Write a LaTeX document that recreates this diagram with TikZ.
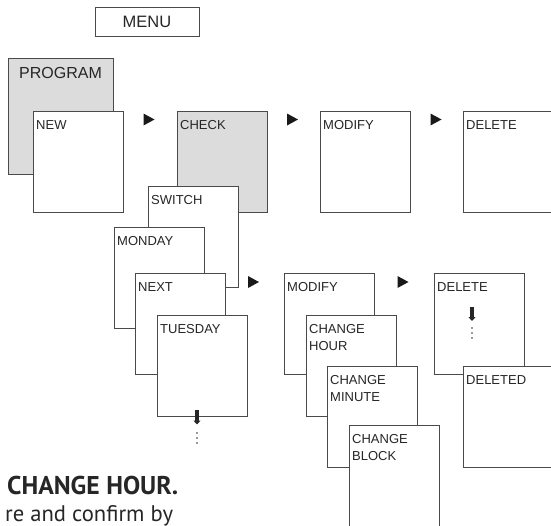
\documentclass[tikz,border=0pt]{standalone}
\usepackage{fontspec}
\setmainfont{Liberation Sans}
\newfontfamily\bodyfont{PT Sans}
\usetikzlibrary{arrows.meta,calc}
\definecolor{boxline}{HTML}{4A4A4A}
\definecolor{boxgray}{HTML}{DCDCDD}
\tikzset{
  box/.style={draw=boxline, line width=0.9pt, fill=white, minimum width=90pt,
    minimum height=101pt, anchor=north west, inner sep=0pt, outer sep=0pt},
  gbox/.style={box, fill=boxgray},
  lbl/.style={anchor=north west, inner sep=0pt, align=left,
    font=\fontsize{13}{16.7}\selectfont, text=black!85},
  bigl/.style={inner sep=0pt, font=\fontsize{16}{19}\selectfont, text=black!85},
  tri/.style={fill=black!90},
  darrow/.style={line width=3.6pt, black!85, -{Triangle[width=7pt,length=4pt]}},
  dot/.style={fill=black!80},
}
\newcommand\rtri[2]{\fill[tri] (#1,#2) ++(-5.5,-6) -- ++(0,12) -- ++(11,-6) -- cycle;}
\newcommand\mydots[2]{\fill[dot] (#1,#2) circle (0.9pt) (#1,#2+5) circle (0.9pt) (#1,#2+10) circle (0.9pt);}
\begin{document}
\begin{tikzpicture}[x=1pt,y=-1pt]
\useasboundingbox (0,0) rectangle (551,525);
% menu
\node[draw=boxline, line width=0.9pt, minimum width=104pt, minimum height=29pt,
  inner sep=0pt, font=\fontsize{16.5}{19}\selectfont, text=black!85] (menu) at (147,21.5) {MENU};
% program / new
\node[gbox, minimum width=105pt, minimum height=116pt] (program) at (8,58) {};
\node[bigl, anchor=north west] (programt) at ($(program.north west)+(11,9)$) {PROGRAM};
\node[box] (new) at (33,111) {};
\node[lbl] (newt) at ($(new.north west)+(3,9.5)$) {NEW};
% check etc.
\node[gbox] (check) at (177,111) {};
\node[lbl] (checkt) at ($(check.north west)+(3,9.5)$) {CHECK};
\node[box] (modify) at (320,111) {};
\node[lbl] (modifyt) at ($(modify.north west)+(3,9.5)$) {MODIFY};
\node[box] (delete) at (463,111) {};
\node[lbl] (deletet) at ($(delete.north west)+(3,9.5)$) {DELETE};
% switch stack
\node[box] (switch) at (148,186) {};
\node[lbl] (switcht) at ($(switch.north west)+(3,9.5)$) {SWITCH};
\node[box] (monday) at (114,227) {};
\node[lbl] (mondayt) at ($(monday.north west)+(3,9.5)$) {MONDAY};
\node[box] (next) at (135,273) {};
\node[lbl] (nextt) at ($(next.north west)+(3,9.5)$) {NEXT};
\node[box] (tuesday) at (157,315) {};
\node[lbl] (tuesdayt) at ($(tuesday.north west)+(3,9.5)$) {TUESDAY};
% modify stack
\node[box] (modify2) at (284,273) {};
\node[lbl] (modify2t) at ($(modify2.north west)+(3,9.5)$) {MODIFY};
\node[box] (chour) at (306,315) {};
\node[lbl] (chourt) at ($(chour.north west)+(3,9.5)$) {CHANGE\\HOUR};
\node[box] (cminute) at (327,366) {};
\node[lbl] (cminutet) at ($(cminute.north west)+(3,9.5)$) {CHANGE\\MINUTE};
\node[box] (cblock) at (349,425) {};
\node[lbl] (cblockt) at ($(cblock.north west)+(3,9.5)$) {CHANGE\\BLOCK};
% delete stack
\node[box] (delete2) at (434,273) {};
\node[lbl] (delete2t) at ($(delete2.north west)+(3,9.5)$) {DELETE};
\node[box] (deleted) at (463,366) {};
\node[lbl] (deletedt) at ($(deleted.north west)+(3,9.5)$) {DELETED};
% right arrows
\rtri{149}{119.5}
\rtri{292.5}{119.5}
\rtri{436}{119.5}
\rtri{253.5}{282}
\rtri{403}{282}
% down arrows and dots
\coordinate (d1a) at (197,410);
\coordinate (d1b) at (197,424.5);
\draw[darrow] (d1a) -- (d1b);
\mydots{197}{433}
\coordinate (d2a) at (472,307);
\coordinate (d2b) at (472,321);
\draw[darrow] (d2a) -- (d2b);
\mydots{472}{328}
% text below
\node[anchor=base west, inner sep=0pt, font=\bodyfont\bfseries\fontsize{25.7}{30}\selectfont, text=black!85] (chtext) at (7,494) {CHANGE HOUR.};
\node[anchor=base west, inner sep=0pt, font=\bodyfont\fontsize{22.6}{30}\selectfont, text=black!85] (conftext) at (5,521) {re and confirm by};
\end{tikzpicture}
\end{document}
